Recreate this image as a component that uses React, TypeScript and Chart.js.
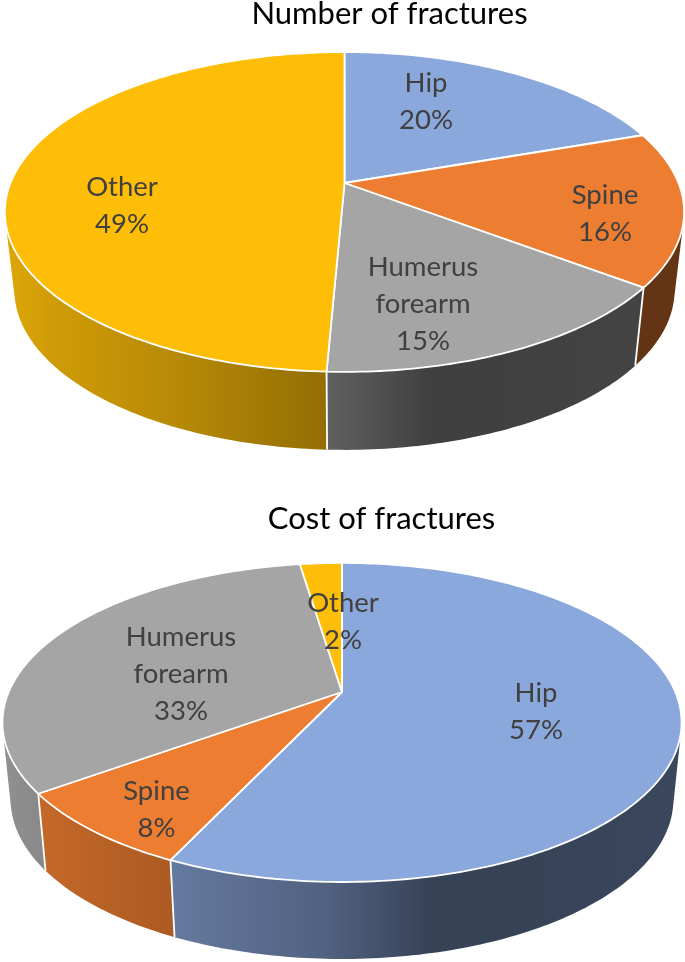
import React, { useEffect, useRef } from "react";
import { Chart, registerables } from "chart.js";

Chart.register(...registerables);

const categoriesNumber = ["Hip", "Spine", "Humerus forearm", "Other"];
const valuesNumber = [19.7, 15.6, 15.4, 49.3];
const categoriesCost = ["Hip", "Spine", "Humerus forearm", "Other"];
const valuesCost = [57, 8, 32.6, 2.4];
const sliceColors = [[139, 168, 220], [237, 125, 49], [165, 165, 165], [254, 190, 8]];

// brightness of the side wall across the width of the page: [x, factor]
const wallLight = [[0, 0.88], [50, 0.82], [177, 0.72], [327, 0.58], [430, 0.39], [500, 0.39], [685, 0.42]];

const FONT = "Lato, 'Open Sans', sans-serif";
const W = 685;

type Geo = { cx: number; cy: number; a: number; b: number; p: number; drop: number; kx: number };
type Pt = { x: number; y: number };

function project(g: Geo, theta: number, lower = false): Pt {
  const u = Math.cos(theta);
  const v = Math.sin(theta);
  const w = 1 - g.p * v;
  const k = lower ? g.kx : 1;
  return { x: g.cx + (k * g.a * u) / w, y: g.cy + (lower ? g.drop : 0) + (g.b * v) / w };
}

function wallGradient(ctx: CanvasRenderingContext2D, rgb: number[]) {
  const grad = ctx.createLinearGradient(0, 0, W, 0);
  wallLight.forEach(([x, f]) => {
    grad.addColorStop(x / W, `rgb(${rgb.map((c) => Math.round(c * f)).join(",")})`);
  });
  return grad;
}

function pieces(start: number, end: number) {
  const n = Math.max(8, Math.ceil((end - start) * 60));
  return Array.from({ length: n + 1 }, (_, i) => start + ((end - start) * i) / n);
}

function signedArea(pts: Pt[]) {
  return pts.reduce((s, p, i) => {
    const q = pts[(i + 1) % pts.length];
    return s + p.x * q.y - q.x * p.y;
  }, 0);
}

function makePlugin(g: Geo, anchors: number[][]) {
  return {
    id: "tiltedPie",
    beforeDatasetsDraw(chart: any) {
      const ctx: CanvasRenderingContext2D = chart.ctx;
      const arcs = chart.getDatasetMeta(0).data;
      ctx.save();
      ctx.lineJoin = "round";
      // side walls: one path of equally oriented quads, so the union has no seams or holes
      arcs.forEach((arc: any, i: number) => {
        const angles = pieces(arc.startAngle, arc.endAngle);
        ctx.beginPath();
        for (let j = 0; j < angles.length - 1; j++) {
          let quad = [
            project(g, angles[j]),
            project(g, angles[j + 1]),
            project(g, angles[j + 1], true),
            project(g, angles[j], true),
          ];
          if (signedArea(quad) < 0) quad = quad.reverse();
          quad.forEach((q, k) => (k === 0 ? ctx.moveTo(q.x, q.y) : ctx.lineTo(q.x, q.y)));
          ctx.closePath();
        }
        ctx.fillStyle = wallGradient(ctx, sliceColors[i]);
        ctx.fill("nonzero");
      });
      ctx.strokeStyle = "#ffffff";
      ctx.lineWidth = 1.8;
      arcs.forEach((arc: any) => {
        const top = project(g, arc.startAngle);
        const low = project(g, arc.startAngle, true);
        ctx.beginPath();
        ctx.moveTo(top.x, top.y);
        ctx.lineTo(low.x, low.y);
        ctx.stroke();
      });
      arcs.forEach((arc: any, i: number) => {
        const angles = pieces(arc.startAngle, arc.endAngle);
        ctx.beginPath();
        ctx.moveTo(g.cx, g.cy);
        angles.forEach((t) => {
          const q = project(g, t);
          ctx.lineTo(q.x, q.y);
        });
        ctx.closePath();
        ctx.fillStyle = `rgb(${sliceColors[i].join(",")})`;
        ctx.fill();
        ctx.stroke();
      });
      ctx.restore();
      return false;
    },
    afterDraw(chart: any) {
      const ctx: CanvasRenderingContext2D = chart.ctx;
      const cats: string[] = chart.data.labels;
      const vals: number[] = chart.data.datasets[0].data;
      ctx.save();
      ctx.fillStyle = "#404040";
      ctx.font = `27.5px ${FONT}`;
      ctx.textAlign = "center";
      ctx.textBaseline = "middle";
      cats.forEach((cat, i) => {
        const lines = [...cat.split(" "), `${Math.round(vals[i])}%`];
        lines.forEach((line, j) => ctx.fillText(line, anchors[i][0], anchors[i][1] + j * 37));
      });
      ctx.restore();
    },
  };
}

function Pie(props: {
  title: string; cats: string[]; vals: number[]; top: number; height: number;
  geo: Geo; anchors: number[][]; titleLeft: number; titleTop: number;
}) {
  const ref = useRef<HTMLCanvasElement>(null);
  useEffect(() => {
    const chart = new Chart(ref.current as HTMLCanvasElement, {
      type: "pie",
      data: {
        labels: props.cats,
        datasets: [{
          data: props.vals,
          backgroundColor: sliceColors.map((c) => `rgb(${c.join(",")})`),
          borderColor: "#ffffff",
        }],
      },
      options: {
        responsive: false,
        animation: false,
        layout: { padding: { left: props.titleLeft, top: props.titleTop } },
        plugins: {
          legend: { display: false },
          tooltip: { enabled: false },
          title: {
            display: true,
            text: props.title,
            color: "#000000",
            font: { family: FONT, size: 31, weight: "normal", lineHeight: 0.9 },
            padding: 0,
          },
        },
      },
      plugins: [makePlugin(props.geo, props.anchors)],
    } as any);
    return () => chart.destroy();
  }, []);
  return (
    <canvas
      ref={ref}
      width={W}
      height={props.height}
      style={{ position: "absolute", left: 0, top: props.top, width: W, height: props.height, display: "block" }}
    />
  );
}

export default function App() {
  return (
    <div style={{ position: "absolute", left: 0, top: 0, width: 685, height: 962, background: "#fff" }}>
      <Pie
        title="Number of fractures"
        cats={categoriesNumber}
        vals={valuesNumber}
        top={0}
        height={490}
        geo={{ cx: 344.5, cy: 183, a: 334, b: 154.7, p: 0.181, drop: 78, kx: 0.972 }}
        anchors={[[426, 83], [605, 195], [423, 267], [122, 187]]}
        titleLeft={94}
        titleTop={0}
      />
      <Pie
        title="Cost of fractures"
        cats={categoriesCost}
        vals={valuesCost}
        top={490}
        height={472}
        geo={{ cx: 342, cy: 202, a: 333.3, b: 153.7, p: 0.191, drop: 77, kx: 0.976 }}
        anchors={[[536, 203], [156.5, 301], [181, 147], [343, 113]]}
        titleLeft={78}
        titleTop={15}
      />
    </div>
  );
}
